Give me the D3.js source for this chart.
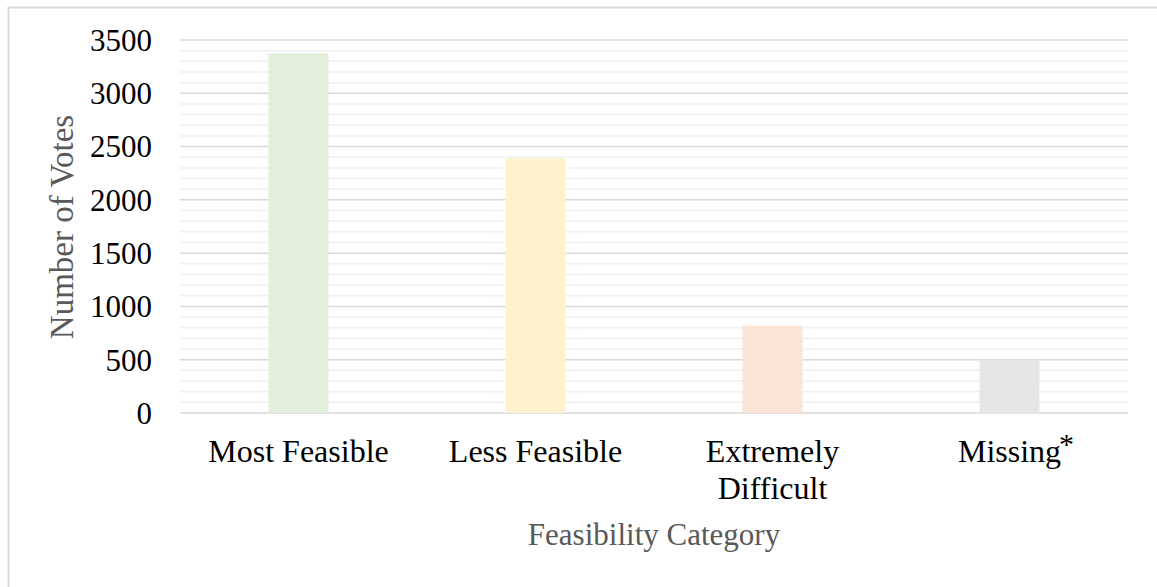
<!DOCTYPE html>
<html>
<head>
<meta charset="UTF-8">
<style>
  body { margin: 0; background: #fff; font-family: "Liberation Serif", serif; }
</style>
</head>
<body>
<svg id="chart"></svg>
<script src="https://d3js.org/d3.v7.min.js"></script>
<script>
const categories = ["Most Feasible", "Less Feasible", "Extremely Difficult", "Missing"];
const votes = [3375, 2390, 820, 500];
const barColors = ["#e2efda", "#fff2cc", "#fbe5d6", "#e7e6e6"];
const yTicks = [0, 500, 1000, 1500, 2000, 2500, 3000, 3500];

let width = 1157, height = 587;
let svg = d3.select("#chart").attr("width", width).attr("height", height);

// outer frame (runs off right / bottom edge like the screenshot)
svg.append("rect")
  .attr("x", 8.5).attr("y", 7.5)
  .attr("width", 1160).attr("height", 600)
  .attr("fill", "none").attr("stroke", "#d9d9d9").attr("stroke-width", 2);

let margin = { left: 180, right: 1128, top: 40, bottom: 413 };

let x = d3.scaleBand().domain(categories).range([margin.left, margin.right]).padding(0);
let y = d3.scaleLinear().domain([0, 3500]).range([margin.bottom, margin.top]);

// minor gridlines every 100
svg.append("g").selectAll("line")
  .data(d3.range(100, 3500, 100).filter(v => v % 500 != 0))
  .enter().append("line")
  .attr("x1", margin.left).attr("x2", margin.right)
  .attr("y1", d => y(d)).attr("y2", d => y(d))
  .attr("stroke", "#f0f0f0").attr("stroke-width", 1.5);

// major gridlines
svg.append("g").selectAll("line")
  .data(yTicks)
  .enter().append("line")
  .attr("x1", margin.left).attr("x2", margin.right)
  .attr("y1", d => y(d)).attr("y2", d => y(d))
  .attr("stroke", "#d9d9d9").attr("stroke-width", 1.5);

// bars
let barW = x.bandwidth() * 0.253;
svg.append("g").selectAll("rect")
  .data(votes)
  .enter().append("rect")
  .attr("x", (d, i) => x(categories[i]) + x.bandwidth() / 2 - barW / 2)
  .attr("y", d => y(d))
  .attr("width", barW)
  .attr("height", d => y(0) - y(d))
  .attr("fill", (d, i) => barColors[i]);

// y tick labels
svg.append("g").selectAll("text")
  .data(yTicks)
  .enter().append("text")
  .attr("x", 152)
  .attr("y", d => y(d))
  .attr("dy", "0.35em")
  .attr("text-anchor", "end")
  .attr("font-size", "31px")
  .attr("fill", "#000")
  .text(d => d);

// category labels
let catG = svg.append("g");
categories.forEach((c, i) => {
  let cx = x(c) + x.bandwidth() / 2;
  let t = catG.append("text")
    .attr("x", cx)
    .attr("y", 462)
    .attr("text-anchor", "middle")
    .attr("font-size", "32px")
    .attr("fill", "#000");
  if (c == "Extremely Difficult") {
    t.append("tspan").attr("x", cx).text("Extremely");
    t.append("tspan").attr("x", cx).attr("dy", 37).text("Difficult");
  } else {
    t.text(c);
  }
  if (c == "Missing") {
    // footnote mark sits after the centred word
    let w = t.node().getComputedTextLength();
    catG.append("text")
      .attr("x", cx + w / 2 - 2)
      .attr("y", 454)
      .attr("font-size", "30px")
      .attr("fill", "#000")
      .text("*");
  }
});

// axis titles
svg.append("text")
  .attr("x", 654).attr("y", 545)
  .attr("text-anchor", "middle")
  .attr("font-size", "31px")
  .attr("fill", "#595959")
  .text("Feasibility Category");

svg.append("text")
  .attr("transform", "translate(73, 227) rotate(-90)")
  .attr("text-anchor", "middle")
  .attr("font-size", "33px")
  .attr("fill", "#595959")
  .text("Number of Votes");
</script>
</body>
</html>
